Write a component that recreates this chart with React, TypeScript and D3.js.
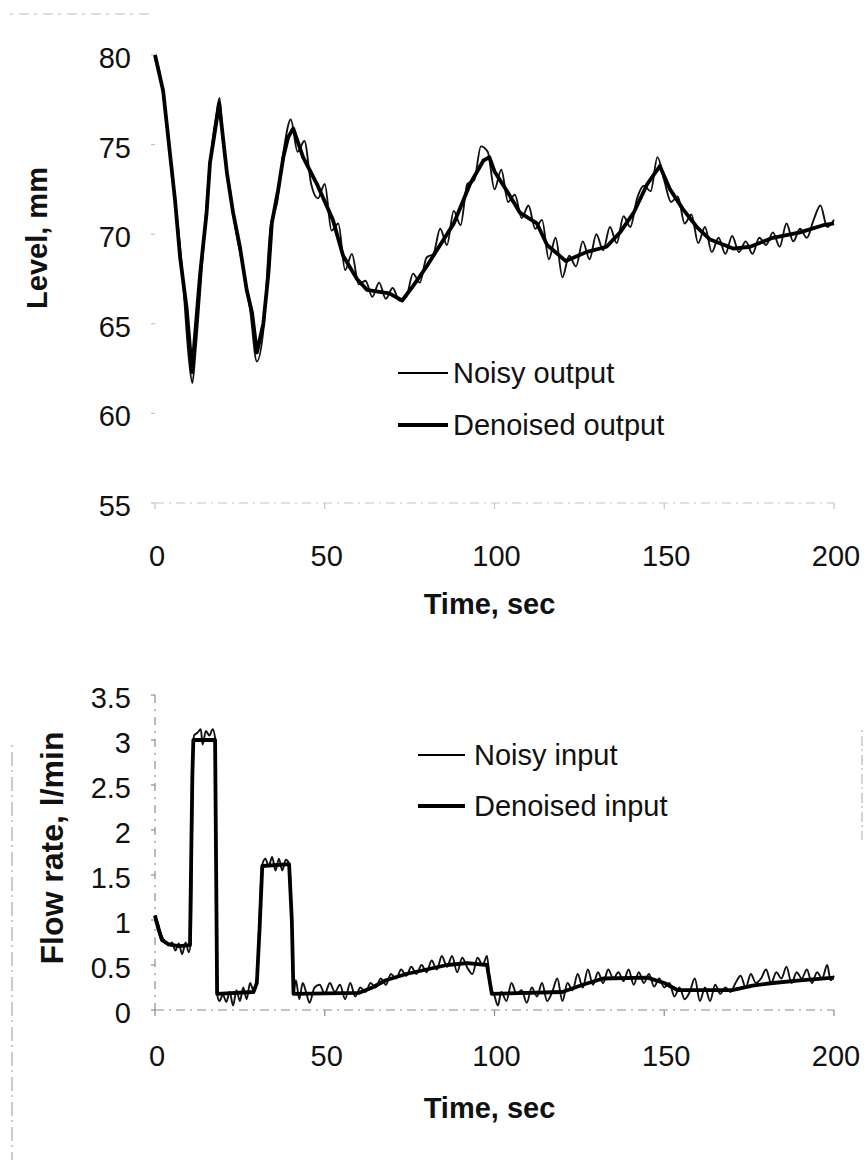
import React from "react";
import * as d3 from "d3";

// ---------- DATA ----------
const timeTicks = [0, 50, 100, 150, 200];
const levelTicks = [55, 60, 65, 70, 75, 80];
const flowTicks = [0, 0.5, 1, 1.5, 2, 2.5, 3, 3.5];
const flowTickLabels = ["0", "0.5", "1", "1.5", "2", "2.5", "3", "3.5"];

// Denoised output (time s, level mm)
const denoisedOutput: [number, number][] = [
  [0, 80], [2.4, 78], [5.9, 71.9], [7.4, 68.7], [9.3, 65.9], [10.9, 62.3], [13.3, 67.8],
  [15.2, 71.2], [16.2, 74.0], [17.7, 75.8], [18.9, 77.3], [21.2, 73.4], [23, 71.2],
  [25, 69.3], [27, 66.9], [28.6, 65.6], [30, 63.4], [31.9, 65.0], [33.4, 67.8], [34.4, 70.6],
  [36.3, 72.5], [37.8, 74.3], [39.2, 75.4], [40.7, 75.9], [43.6, 74.3], [47.7, 72.8],
  [52.4, 70.8], [55.4, 68.8], [59.5, 67.5], [62.4, 66.9], [69, 66.7], [72.8, 66.3],
  [76, 67.1], [80, 68.2], [84, 69.4], [88, 70.6], [92.8, 72.8], [96.7, 74.1], [98.5, 74.3],
  [100, 73.5], [103.7, 72.4], [107.5, 71.2], [112.5, 70.6], [115.5, 69.4], [121, 68.5],
  [127, 69.0], [133, 69.3], [137, 70.1], [141, 71.2], [145, 72.8], [148.7, 73.8],
  [151.7, 72.5], [155.5, 71.4], [159.6, 70.4], [163.5, 69.7], [170.3, 69.2], [175.3, 69.3],
  [182, 69.8], [190, 70.1], [196.8, 70.5], [200, 70.6],
];

// Noisy output (time s, level mm)
const noisyOutput: [number, number][] = [
  [0, 80.0], [2, 78.4], [4, 75.1], [6, 71.8], [8, 68.0], [10, 63.0], [11, 61.7], [12, 63.6],
  [14, 68.6], [16, 73.6], [18, 76.6], [19, 77.6], [20, 75.2], [22, 72.6], [24, 70.0],
  [26, 68.1], [28, 65.8], [30, 62.9], [32, 64.8], [34, 70.4], [36, 71.8], [38, 74.8],
  [40, 76.4], [42, 74.6], [44, 75.2], [46, 72.8], [48, 72.0], [50, 72.8], [52, 70.2],
  [54, 70.6], [56, 68.0], [58, 68.9], [60, 67.2], [62, 67.4], [64, 66.5], [66, 67.3],
  [68, 66.4], [70, 67.0], [72, 66.3], [74, 66.5], [76, 67.8], [78, 67.3], [80, 68.7],
  [82, 68.9], [84, 70.3], [86, 69.4], [88, 71.3], [90, 70.5], [92, 72.8], [94, 73.0],
  [96, 74.9], [98, 74.6], [100, 72.5], [102, 73.6], [104, 71.8], [106, 72.2], [108, 70.9],
  [110, 71.6], [112, 70.3], [114, 70.8], [116, 68.6], [118, 69.8], [120, 67.6], [122, 68.8],
  [124, 68.2], [126, 69.6], [128, 68.6], [130, 70.0], [132, 69.1], [134, 70.4], [136, 69.5],
  [138, 71.0], [140, 70.4], [142, 72.0], [144, 72.7], [146, 72.4], [148, 74.3], [150, 73.0],
  [152, 71.8], [154, 72.1], [156, 70.6], [158, 71.1], [160, 69.5], [162, 70.4], [164, 69.0],
  [166, 69.8], [168, 68.9], [170, 69.9], [172, 69.0], [174, 69.6], [176, 68.9], [178, 69.8],
  [180, 69.4], [182, 70.1], [184, 69.3], [186, 70.6], [188, 69.6], [190, 70.3], [192, 69.8],
  [194, 70.8], [196, 71.6], [198, 70.4], [200, 70.8],
];

// Denoised input (time s, flow l/min)
const denoisedInput: [number, number][] = [
  [0, 1.05], [1, 0.9], [2, 0.78], [4, 0.73], [7, 0.71], [10.3, 0.72], [11, 2.6], [11.3, 3.0],
  [17.7, 3.0], [18.3, 0.18], [29, 0.2], [30, 0.3], [30.8, 0.9], [31.6, 1.6], [39.5, 1.62],
  [40.3, 1.0], [40.8, 0.18], [60, 0.19], [64, 0.25], [68, 0.33], [74, 0.4], [80, 0.45],
  [86, 0.5], [92, 0.52], [97.8, 0.5], [99.2, 0.18], [120, 0.2], [126, 0.28], [132, 0.35],
  [145, 0.36], [150, 0.3], [154, 0.22], [170, 0.22], [176, 0.27], [182, 0.3], [190, 0.33],
  [200, 0.36],
];

// Noisy input (time s, flow l/min)
const noisyInput: [number, number][] = [
  [0, 1.05], [1, 0.95], [2, 0.82], [3, 0.76], [4, 0.72], [5, 0.75], [6, 0.66], [7, 0.74],
  [8, 0.62], [9, 0.75], [10, 0.64], [10.6, 0.8], [11.1, 2.7], [11.5, 3.05], [12.5, 3.08],
  [13.5, 3.12], [14, 2.95], [15, 3.1], [16, 3.05], [17, 3.12], [17.7, 3.02], [18.2, 0.2],
  [19, 0.1], [20, 0.17], [21, 0.09], [22, 0.2], [23, 0.05], [24, 0.22], [25, 0.1], [26, 0.25],
  [27, 0.12], [28, 0.3], [29, 0.22], [30, 0.35], [30.7, 0.95], [31.5, 1.6], [32.5, 1.68],
  [33.5, 1.6], [34.5, 1.7], [35.5, 1.55], [36.5, 1.68], [37.5, 1.55], [38.5, 1.67],
  [39.5, 1.63], [40.3, 1.0], [40.8, 0.2], [41.5, 0.33], [42.5, 0.12], [43.5, 0.3], [44.5, 0.2],
  [45.5, 0.08], [47, 0.25], [48.5, 0.28], [50, 0.18], [51.5, 0.3], [53, 0.2], [54.5, 0.28],
  [56, 0.12], [57.5, 0.3], [59, 0.15], [60.5, 0.25], [62, 0.2], [63.5, 0.3], [65, 0.25],
  [66.5, 0.35], [68, 0.28], [69.5, 0.4], [71, 0.35], [72.5, 0.45], [74, 0.38], [75.5, 0.48],
  [77, 0.4], [78.5, 0.5], [80, 0.42], [81.5, 0.55], [83, 0.45], [84.5, 0.6], [86, 0.48],
  [87.5, 0.6], [89, 0.42], [90.5, 0.58], [92, 0.47], [93.5, 0.4], [95, 0.58], [96.5, 0.5],
  [97.8, 0.6], [98.8, 0.25], [99.8, 0.18], [101, 0.05], [102, 0.2], [103.5, 0.1], [105, 0.3],
  [106.5, 0.18], [108, 0.22], [109.5, 0.08], [111, 0.25], [112.5, 0.15], [114, 0.3],
  [115.5, 0.1], [117, 0.2], [118.5, 0.35], [120, 0.1], [121.5, 0.3], [123, 0.22], [124.5, 0.4],
  [126, 0.25], [127.5, 0.45], [129, 0.28], [130.5, 0.42], [132, 0.3], [133.5, 0.45],
  [135, 0.35], [136.5, 0.42], [138, 0.32], [139.5, 0.45], [141, 0.28], [142.5, 0.42],
  [144, 0.3], [145.5, 0.4], [147, 0.26], [148.5, 0.35], [150, 0.25], [151.5, 0.3], [153, 0.15],
  [154.5, 0.25], [156, 0.12], [157.5, 0.2], [159, 0.35], [160.5, 0.1], [162, 0.25],
  [163.5, 0.1], [165, 0.28], [166.5, 0.18], [168, 0.25], [169.5, 0.2], [171, 0.3],
  [172.5, 0.38], [174, 0.25], [175.5, 0.4], [177, 0.3], [178.5, 0.35], [180, 0.45],
  [181.5, 0.3], [183, 0.42], [184.5, 0.35], [186, 0.48], [187.5, 0.3], [189, 0.42],
  [190.5, 0.35], [192, 0.45], [193.5, 0.3], [195, 0.42], [196.5, 0.35], [198, 0.5],
  [199, 0.33], [200, 0.38],
];

const legendTop = ["Noisy output", "Denoised output"];
const legendBottom = ["Noisy input", "Denoised input"];

// ---------- LAYOUT ----------
const W = 866;
const H = 1163;
const FONT = "'Liberation Sans', Arial, Helvetica, sans-serif";

const x = d3.scaleLinear().domain([0, 200]).range([155, 834]);
const yTop = d3.scaleLinear().domain([55, 80]).range([503, 55]);
const yBot = d3.scaleLinear().domain([0, 3.5]).range([1010, 695]);

const noisyLine = (ys: d3.ScaleLinear<number, number>) =>
  d3.line<[number, number]>().x((d) => x(d[0])).y((d) => ys(d[1])).curve(d3.curveMonotoneX);
const denLine = (ys: d3.ScaleLinear<number, number>) =>
  d3.line<[number, number]>().x((d) => x(d[0])).y((d) => ys(d[1])).curve(d3.curveLinear);

function Panel({
  ys, ticks, tickLabels, axisY, xLabelBaseline, titleBaseline, yTitle, yTitleX, yTitleY,
  yTitleSize, noisy, den, legend, legX1, legX2, legTextX, legY, legGap, showLeftAxis, axisColor,
}: any) {
  const yTop0 = ys.range()[1];
  return (
    <g>
      {/* axes (faint, scanned look) */}
      <line x1={x(0)} x2={x(200)} y1={axisY} y2={axisY} stroke={axisColor} strokeWidth={1.2} strokeDasharray="9 5 2 5" />
      {showLeftAxis && (
        <line x1={x(0)} x2={x(0)} y1={yTop0} y2={axisY} stroke={axisColor} strokeWidth={1.2} strokeDasharray="8 6 2 6" />
      )}
      {ticks.map((t: number, i: number) => (
        <g key={"yt" + i}>
          <line x1={x(0) - 4} x2={x(0)} y1={ys(t)} y2={ys(t)} stroke={axisColor} strokeWidth={1.2} />
          <text x={131} y={ys(t) + 13} textAnchor="end" fontFamily={FONT} fontSize={29} fill="#111">
            {tickLabels[i]}
          </text>
        </g>
      ))}
      {timeTicks.map((t) => (
        <g key={"xt" + t}>
          <line x1={x(t)} x2={x(t)} y1={axisY} y2={axisY + 6} stroke={axisColor} strokeWidth={1.2} />
          <text x={x(t) + 2} y={xLabelBaseline} textAnchor="middle" fontFamily={FONT} fontSize={29} fill="#111">
            {t}
          </text>
        </g>
      ))}
      <text x={x(100) - 5} y={titleBaseline} textAnchor="middle" fontFamily={FONT} fontWeight="bold" fontSize={29} fill="#111">
        Time, sec
      </text>
      <text
        transform={`translate(${yTitleX},${yTitleY}) rotate(-90)`}
        textAnchor="middle" fontFamily={FONT} fontWeight="bold" fontSize={yTitleSize} fill="#111"
      >
        {yTitle}
      </text>
      {/* series */}
      <path d={noisyLine(ys)(noisy) || ""} fill="none" stroke="#111" strokeWidth={1.9} strokeLinejoin="round" />
      <path d={denLine(ys)(den) || ""} fill="none" stroke="#000" strokeWidth={3.8} strokeLinejoin="round" />
      {/* legend */}
      {legend.map((name: string, i: number) => (
        <g key={name}>
          <line x1={legX1} x2={legX2} y1={legY + i * legGap} y2={legY + i * legGap} stroke="#000" strokeWidth={i === 0 ? 2 : 3.8} />
          <text x={legTextX} y={legY + i * legGap + 10} fontFamily={FONT} fontSize={29} fill="#111">
            {name}
          </text>
        </g>
      ))}
    </g>
  );
}

export default function App() {
  return (
    <svg width={W} height={H} style={{ position: "absolute", left: 0, top: 0, background: "#fff" }}>
      <rect width={W} height={H} fill="#fff" />
      {/* scan frame remnants */}
      <line x1={10} x2={150} y1={14} y2={14} stroke="#bbb" strokeWidth={1} strokeDasharray="3 6 10 5" />
      <line x1={12} x2={12} y1={745} y2={1160} stroke="#999" strokeWidth={1} strokeDasharray="2 5 14 4" />
      <line x1={862} x2={862} y1={730} y2={840} stroke="#aaa" strokeWidth={1} strokeDasharray="2 4 10 3" />
      <Panel
        ys={yTop} ticks={levelTicks} tickLabels={levelTicks.map(String)} axisY={503}
        xLabelBaseline={566} titleBaseline={614} yTitle="Level, mm" yTitleX={47} yTitleY={238}
        yTitleSize={29} noisy={noisyOutput} den={denoisedOutput} legend={legendTop}
        legX1={398} legX2={448} legTextX={453} legY={373} legGap={52} showLeftAxis={false} axisColor="#c4c4c4"
      />
      <Panel
        ys={yBot} ticks={flowTicks} tickLabels={flowTickLabels} axisY={1010}
        xLabelBaseline={1066} titleBaseline={1118} yTitle="Flow rate, l/min" yTitleX={63} yTitleY={848}
        yTitleSize={32} noisy={noisyInput} den={denoisedInput} legend={legendBottom}
        legX1={418} legX2={465} legTextX={474} legY={755} legGap={51} showLeftAxis={true} axisColor="#8c8c8c"
      />
    </svg>
  );
}
